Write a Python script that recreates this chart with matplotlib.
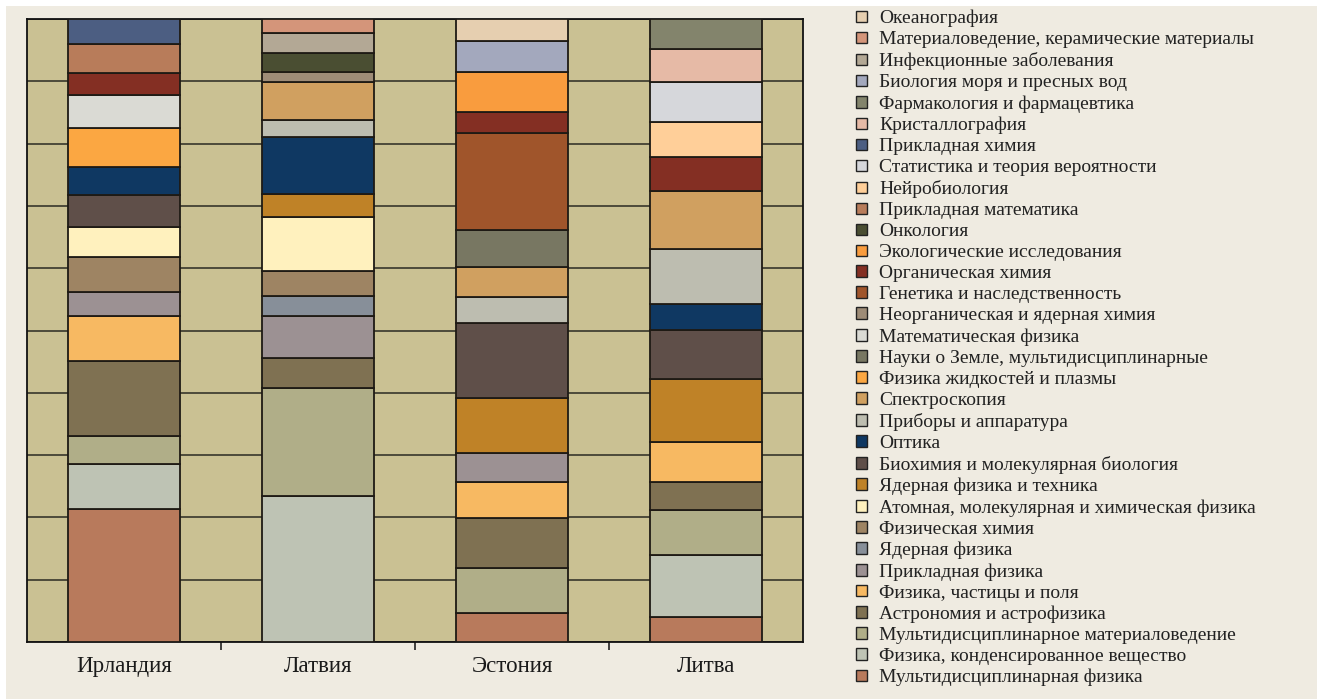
import matplotlib
matplotlib.use("Agg")
import matplotlib.pyplot as plt
from matplotlib.patches import Patch, Rectangle
import numpy as np

plt.rcParams['font.family'] = ['Liberation Serif', 'DejaVu Serif']

countries = ["Ирландия", "Латвия", "Эстония", "Литва"]

# legend order (top of stack first)
categories = [
    "Океанография",
    "Материаловедение, керамические материалы",
    "Инфекционные заболевания",
    "Биология моря и пресных вод",
    "Фармакология и фармацевтика",
    "Кристаллография",
    "Прикладная химия",
    "Статистика и теория вероятности",
    "Нейробиология",
    "Прикладная математика",
    "Онкология",
    "Экологические исследования",
    "Органическая химия",
    "Генетика и наследственность",
    "Неорганическая и ядерная химия",
    "Математическая физика",
    "Науки о Земле, мультидисциплинарные",
    "Физика жидкостей и плазмы",
    "Спектроскопия",
    "Приборы и аппаратура",
    "Оптика",
    "Биохимия и молекулярная биология",
    "Ядерная физика и техника",
    "Атомная, молекулярная и химическая физика",
    "Физическая химия",
    "Ядерная физика",
    "Прикладная физика",
    "Физика, частицы и поля",
    "Астрономия и астрофизика",
    "Мультидисциплинарное материаловедение",
    "Физика, конденсированное вещество",
    "Мультидисциплинарная физика",
]

colors = [
    "#E6CFB0", "#D4957A", "#B3A895", "#A3A8BD", "#83846C", "#E6BAA6",
    "#4C5E82", "#D6D7DB", "#FFCF99", "#B87C5A", "#4A4E32", "#F99C3E",
    "#842F23", "#A0552B", "#9E8C77", "#DADAD4", "#787762", "#FBA742",
    "#D0A060", "#BDBDB0", "#0F3862", "#5F4F49", "#BF8227", "#FFF1BE",
    "#9E8463", "#878F99", "#9C9193", "#F7B962", "#7F7152", "#B0AE88",
    "#BEC3B4", "#B87A5C",
]

# shares (%) per category, same order as categories
ireland = [0, 0, 0, 0, 0, 0, 4.0, 0, 0, 4.7, 0, 0, 3.5, 0, 0, 5.2, 0, 6.3,
           0, 0, 4.5, 5.2, 0, 4.8, 5.5, 0, 4.0, 7.1, 12.0, 4.5, 7.3, 21.3]
latvia = [0, 2.2, 3.2, 0, 0, 0, 0, 0, 0, 0, 3.2, 0, 0, 0, 1.6, 0, 0, 0,
          6.1, 2.7, 9.1, 0, 3.7, 8.7, 4.0, 3.3, 6.7, 0, 4.8, 17.4, 23.5, 0]
estonia = [3.6, 0, 0, 4.9, 0, 0, 0, 0, 0, 0, 0, 6.5, 3.3, 15.6, 0, 0, 6.1, 0,
           4.8, 4.2, 0, 12.0, 8.8, 0, 0, 0, 4.8, 5.8, 8.0, 7.2, 0, 4.7]
lithuania = [0, 0, 0, 0, 4.8, 5.4, 0, 6.4, 5.5, 0, 0, 0, 5.5, 0, 0, 0, 0, 0,
             9.4, 8.8, 4.2, 7.9, 10.1, 0, 0, 0, 0, 6.4, 4.5, 7.3, 9.9, 4.0]

data = np.array([ireland, latvia, estonia, lithuania]).T  # (cat, country)
data = data / data.sum(axis=0) * 100

fig = plt.figure(figsize=(13.17, 6.99), dpi=100)
fig.patch.set_facecolor("white")
fig.add_artist(Rectangle((6 / 1317, 0), 1, 1 - 6 / 699, transform=fig.transFigure,
                         facecolor="#EFEBE1", edgecolor="none", zorder=-10))

ax = fig.add_axes([27 / 1317, 1 - 642 / 699, (803 - 27) / 1317, (642 - 19) / 699])
ax.set_facecolor("#CAC193")

x = np.arange(len(countries))
bottom = np.zeros(len(countries))
for i in range(len(categories) - 1, -1, -1):
    vals = data[i]
    mask = vals > 0
    ax.bar(x[mask], vals[mask], bottom=bottom[mask], width=0.575,
           color=colors[i], edgecolor="#1E1A14", linewidth=1.3, zorder=3)
    bottom += vals

ax.set_xlim(-0.5, 3.5)
ax.set_ylim(0, 100)
ax.set_yticks(np.arange(0, 101, 10))
ax.set_yticklabels([])
ax.tick_params(axis="y", length=0)
ax.yaxis.grid(True, color="#2A2A22", linewidth=1.1, zorder=0)
ax.set_axisbelow(True)

ax.set_xticks(x)
ax.set_xticklabels(countries, fontsize=16.5, color="#1A1A1A")
ax.tick_params(axis="x", which="major", length=0, pad=10)
ax.set_xticks([0.5, 1.5, 2.5], minor=True)
ax.tick_params(axis="x", which="minor", length=6, width=1.2, color="#222222", direction="out")

for s in ax.spines.values():
    s.set_color("#111111")
    s.set_linewidth(1.3)

handles = [Patch(facecolor=c, edgecolor="#222222", linewidth=1.0) for c in colors]
leg = fig.legend(handles, categories, loc="upper left",
                 bbox_to_anchor=(852 / 1317, 1 - 6 / 699),
                 frameon=False, fontsize=14, handlelength=0.55, handleheight=0.55,
                 handletextpad=0.65, labelspacing=0.205, borderpad=0.2,
                 borderaxespad=0)
for t in leg.get_texts():
    t.set_color("#222222")

fig.savefig("out.png", dpi=100, facecolor=fig.get_facecolor())
